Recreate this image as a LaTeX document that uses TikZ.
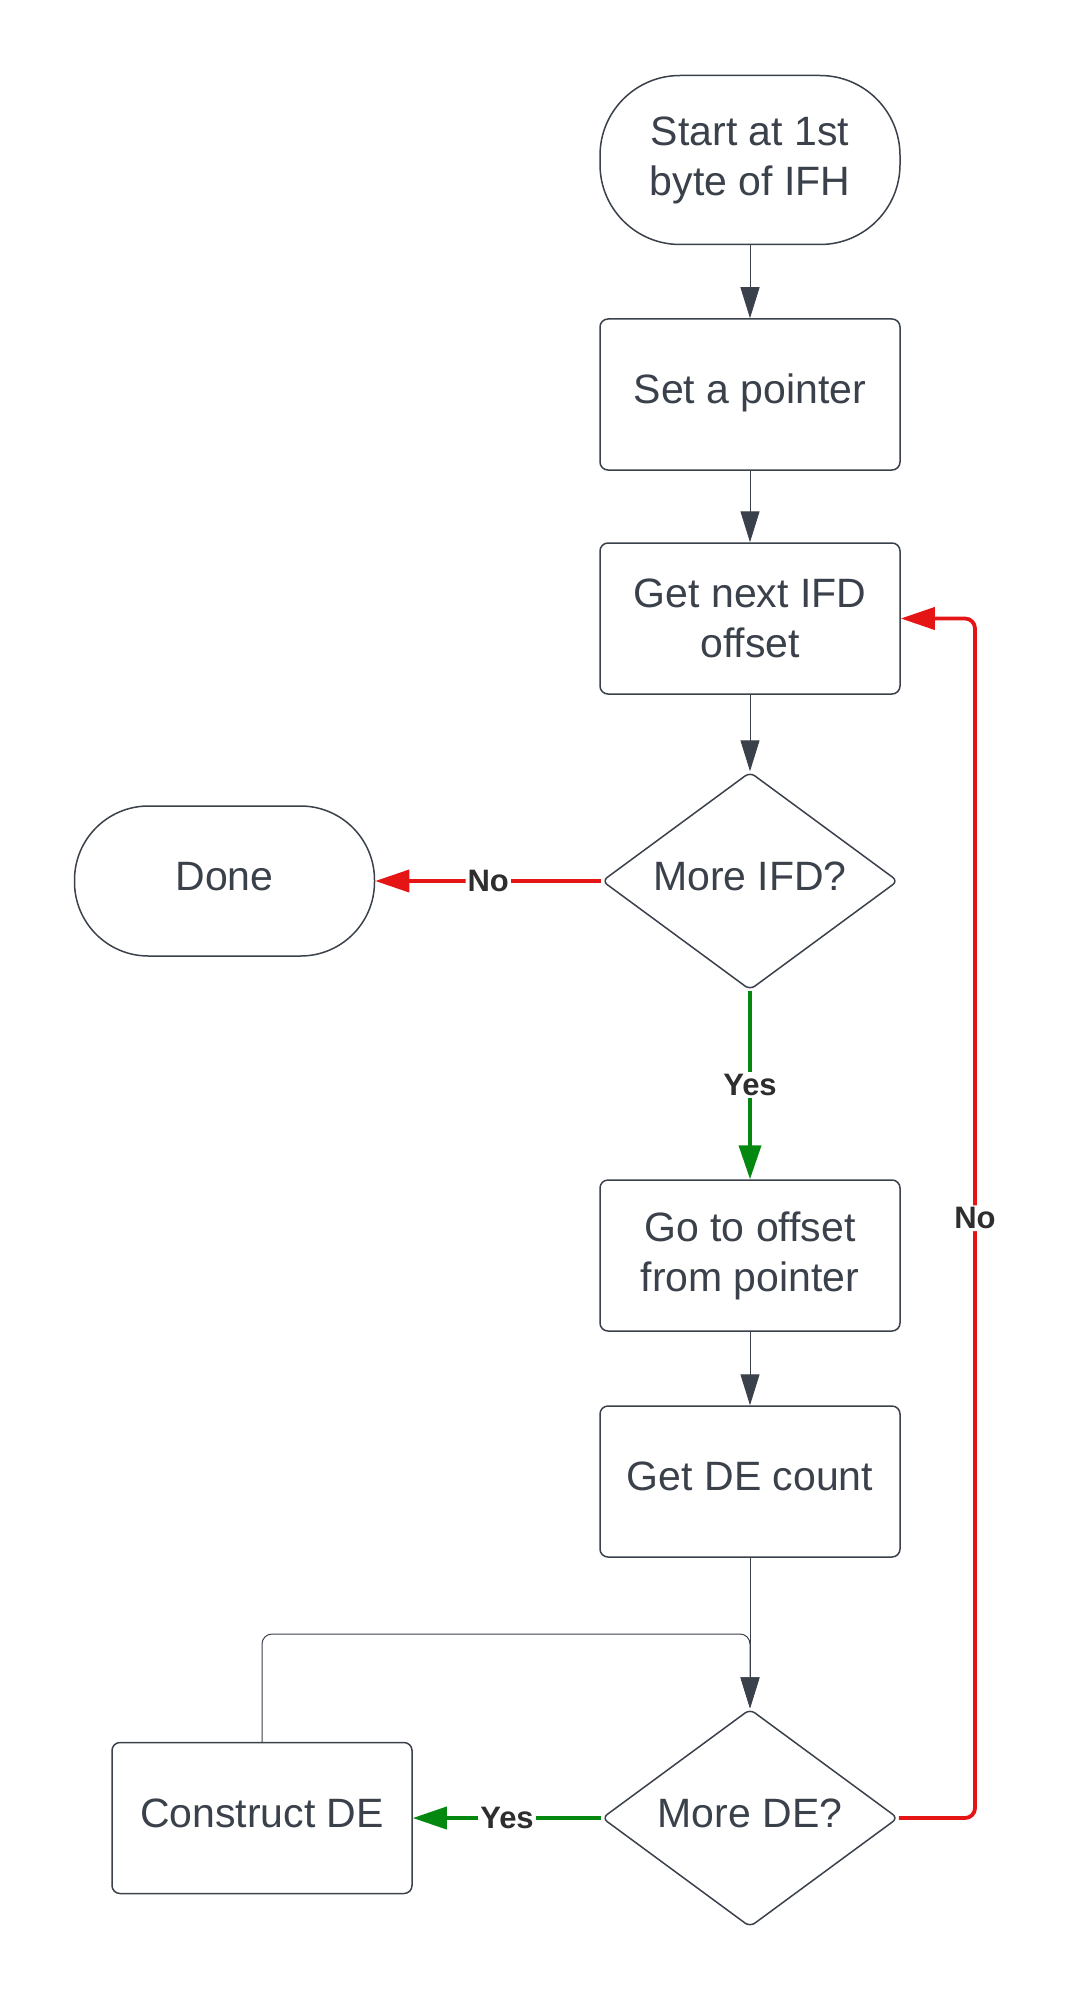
\documentclass[tikz,border=0pt]{standalone}
\usepackage{fontspec}
\setmainfont{Liberation Sans}
\usetikzlibrary{arrows.meta,shapes.geometric}
\definecolor{ink}{HTML}{3A414A}
\definecolor{lblink}{HTML}{2E2E2E}
\definecolor{nored}{HTML}{E61515}
\definecolor{yesgreen}{HTML}{05880F}
\begin{document}
\begin{tikzpicture}[x=0.5pt,y=-0.5pt,
  box/.style={draw=ink, line width=0.75pt, rounded corners=4pt, minimum width=150pt, minimum height=75.5pt, align=center, text=ink, font=\fontsize{20.5}{25}\selectfont, inner sep=0pt},
  oneline/.style={text height=12pt, text depth=3pt},
  term/.style={box, rounded corners=37pt},
  dec/.style={diamond, draw=ink, line width=0.75pt, rounded corners=3pt, minimum width=148pt, minimum height=109pt, aspect=1.34, align=center, text=ink, font=\fontsize{20.5}{25}\selectfont, inner sep=0pt, oneline},
  conn/.style={draw=ink, line width=0.5pt, -{Triangle[length=15.5pt,width=9.5pt]}},
  noconn/.style={draw=nored, line width=1.9pt, rounded corners=5pt, -{Triangle[length=17pt,width=11pt]}},
  yesconn/.style={draw=yesgreen, line width=1.9pt, -{Triangle[length=17pt,width=11pt]}},
  lbl/.style={fill=white, text=lblink, font=\bfseries\fontsize{15.5}{18}\selectfont, inner sep=1pt}
]
\fill[white] (0,0) rectangle (1073,2006);
\useasboundingbox (0,0) rectangle (1073,2006);

\node[term, minimum height=84.5pt, rounded corners=40pt] (start) at (750,160) {Start at 1st\\byte of IFH};
\node[box, oneline] (setp) at (750,394.5) {Set a pointer};
\node[box] (getnext) at (750,618.5) {Get next IFD\\offset};
\node[dec] (moreifd) at (750,881) {More IFD?};
\node[term, oneline, minimum height=75pt] (done) at (224.5,881) {Done};
\node[box] (goto) at (750,1255.5) {Go to offset\\from pointer};
\node[box, oneline] (getde) at (750,1481.5) {Get DE count};
\node[dec] (morede) at (750,1818) {More DE?};
\node[box, oneline] (construct) at (262,1818) {Construct DE};

\coordinate (rx) at (975,0);
\coordinate (loopc) at (750,1634);

\draw[conn] (start.south) -- (setp.north);
\draw[conn] (setp.south) -- (getnext.north);
\draw[conn] (getnext.south) -- (moreifd.north);
\draw[noconn] (moreifd.west) -- node[lbl] {No} (done.east);
\draw[yesconn] (moreifd.south) -- node[lbl] {Yes} (goto.north);
\draw[conn] (goto.south) -- (getde.north);
\draw[conn] (getde.south) -- (morede.north);
\draw[conn, rounded corners=5pt] (construct.north) |- (loopc) -- (morede.north);
\draw[yesconn] (morede.west) -- node[lbl] {Yes} (construct.east);
\draw[noconn] (morede.east) -- (morede.east -| rx) -- node[lbl] {No} (getnext.east -| rx) -- (getnext.east);
\end{tikzpicture}
\end{document}
